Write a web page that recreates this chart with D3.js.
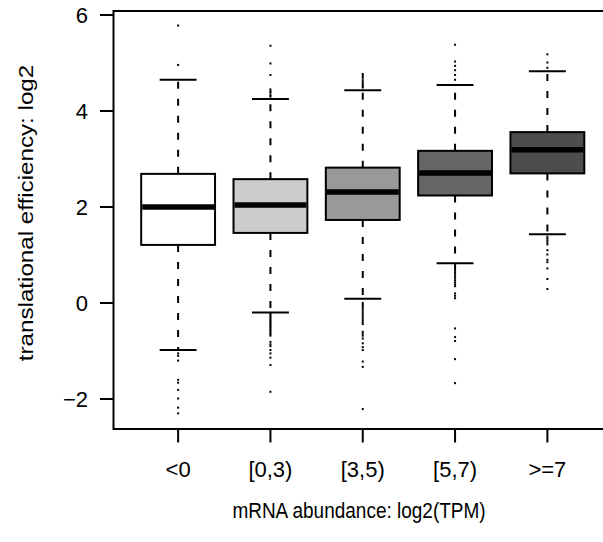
<!DOCTYPE html>
<html>
<head>
<meta charset="utf-8">
<script src="https://cdn.jsdelivr.net/npm/d3@7"></script>
<style>
  body { margin: 0; background: #fff; }
  svg text { font-family: "Liberation Sans", Arial, Helvetica, sans-serif; fill: #000; }
</style>
</head>
<body>
<svg id="chart" width="603" height="542"></svg>
<script>
// categories and box statistics
const categories = ['<0', '[0,3)', '[3,5)', '[5,7)', '>=7']
const fills = ['#ffffff', '#cccccc', '#999999', '#666666', '#4d4d4d']
const whiskerLow = [-0.98, -0.2, 0.09, 0.83, 1.43]
const q1 = [1.21, 1.46, 1.73, 2.24, 2.70]
const medians = [2.0, 2.04, 2.31, 2.71, 3.19]
const q3 = [2.69, 2.58, 2.82, 3.17, 3.56]
const whiskerHigh = [4.65, 4.25, 4.43, 4.54, 4.83]

const outliers = [
	[5.78, 4.96, -1.05, -1.10, -1.20, -1.60, -1.66, -1.81, -1.99, -2.18, -2.30],
	[5.36, 4.99, 4.75, 4.45, 4.41, 4.38, 4.33, 4.30,
		-0.23, -0.26, -0.29, -0.32, -0.35, -0.38, -0.41, -0.44, -0.47, -0.50, -0.53,
		-0.56, -0.59, -0.62, -0.65, -0.68, -0.81, -0.86, -0.90, -0.98, -1.05, -1.14,
		-1.29, -1.85],
	[4.77, 4.73, 4.69, 4.64, 4.60, 4.56, 4.52, 4.49,
		0.0, -0.04, -0.08, -0.12, -0.16, -0.20, -0.24, -0.28, -0.32, -0.36, -0.40,
		-0.44, -0.60, -0.64, -0.68, -0.74, -0.84, -0.92, -0.98, -1.22, -1.33, -2.21],
	[5.38, 5.03, 4.94, 4.85, 4.75, 4.65,
		0.79, 0.75, 0.71, 0.67, 0.63, 0.59, 0.55, 0.51, 0.47, 0.43, 0.39, 0.35,
		0.20, 0.15, 0.10, -0.53, -0.71, -0.79, -1.17, -1.67],
	[5.18, 5.01, 4.90,
		1.38, 1.34, 1.30, 1.26, 1.22, 1.10, 1.01, 0.90, 0.85, 0.72, 0.50, 0.29]
]

const yTicks = [-2, 0, 2, 4, 6]

const svg = d3.select('#chart')
const plotLeft = 113.5
const plotRight = 612
const plotTop = 11
const plotBottom = 429

const x = d3.scaleLinear().domain([0.3, 5.7]).range([plotLeft, plotRight])
const y = d3.scaleLinear().domain([-2.625, 6.083]).range([plotBottom, plotTop])

const boxHalf = (x(1.4) - x(1)) // boxwex 0.8
const capHalf = boxHalf / 2

const g = svg.append('g')

categories.forEach((cat, i) => {
	const cx = x(i + 1)
	const grp = g.append('g').attr('class', 'box')

	// whiskers (dashed), drawn from the box outwards
	grp.append('line')
		.attr('x1', cx).attr('x2', cx)
		.attr('y1', y(q3[i])).attr('y2', y(whiskerHigh[i]))
		.attr('stroke', '#000').attr('stroke-width', 2)
		.attr('stroke-dasharray', '7,10')
	grp.append('line')
		.attr('x1', cx).attr('x2', cx)
		.attr('y1', y(q1[i])).attr('y2', y(whiskerLow[i]))
		.attr('stroke', '#000').attr('stroke-width', 2)
		.attr('stroke-dasharray', '7,10')

	// staples
	;[whiskerHigh[i], whiskerLow[i]].forEach(v => {
		grp.append('line')
			.attr('x1', cx - capHalf).attr('x2', cx + capHalf)
			.attr('y1', y(v)).attr('y2', y(v))
			.attr('stroke', '#000').attr('stroke-width', 2)
	})

	// outliers as small dots
	grp.selectAll('rect.out')
		.data(outliers[i])
		.join('rect')
		.attr('class', 'out')
		.attr('x', cx - 1)
		.attr('y', d => y(d) - 1)
		.attr('width', 2)
		.attr('height', 2)
		.attr('fill', '#000')

	// box
	grp.append('rect')
		.attr('x', cx - boxHalf)
		.attr('y', y(q3[i]))
		.attr('width', boxHalf * 2)
		.attr('height', y(q1[i]) - y(q3[i]))
		.attr('fill', fills[i])
		.attr('stroke', '#000')
		.attr('stroke-width', 2)

	// median
	grp.append('line')
		.attr('x1', cx - boxHalf + 1).attr('x2', cx + boxHalf - 1)
		.attr('y1', y(medians[i])).attr('y2', y(medians[i]))
		.attr('stroke', '#000').attr('stroke-width', 5.5)
})

// frame
svg.append('rect')
	.attr('x', plotLeft).attr('y', plotTop)
	.attr('width', plotRight - plotLeft)
	.attr('height', plotBottom - plotTop)
	.attr('fill', 'none')
	.attr('stroke', '#000')
	.attr('stroke-width', 2)

// y axis
const yAxis = svg.append('g')
yAxis.selectAll('line')
	.data(yTicks)
	.join('line')
	.attr('x1', plotLeft - 13.5).attr('x2', plotLeft)
	.attr('y1', d => y(d)).attr('y2', d => y(d))
	.attr('stroke', '#000').attr('stroke-width', 2)
yAxis.selectAll('text')
	.data(yTicks)
	.join('text')
	.attr('x', 88)
	.attr('y', d => y(d))
	.attr('dy', '0.36em')
	.attr('text-anchor', 'end')
	.attr('font-size', 22)
	.text(d => (d < 0 ? '\u2212' + Math.abs(d) : d))

// x axis
const xAxis = svg.append('g')
xAxis.selectAll('line')
	.data(categories)
	.join('line')
	.attr('x1', (d, i) => x(i + 1)).attr('x2', (d, i) => x(i + 1))
	.attr('y1', plotBottom).attr('y2', plotBottom + 13.5)
	.attr('stroke', '#000').attr('stroke-width', 2)
xAxis.selectAll('text')
	.data(categories)
	.join('text')
	.attr('x', (d, i) => x(i + 1))
	.attr('y', 477)
	.attr('text-anchor', 'middle')
	.attr('font-size', 22)
	.text(d => d)

// axis titles
svg.append('text')
	.attr('transform', 'translate(359,518) scale(1,1.2)')
	.attr('text-anchor', 'middle')
	.attr('font-size', 19)
	.text('mRNA abundance: log2(TPM)')

// the picture is stretched vertically, so the rotated title runs longer
svg.append('text')
	.attr('transform', `translate(33,213) rotate(-90) scale(1.24,1)`)
	.attr('text-anchor', 'middle')
	.attr('font-size', 19.5)
	.text('translational efficiency: log2')
</script>
</body>
</html>
